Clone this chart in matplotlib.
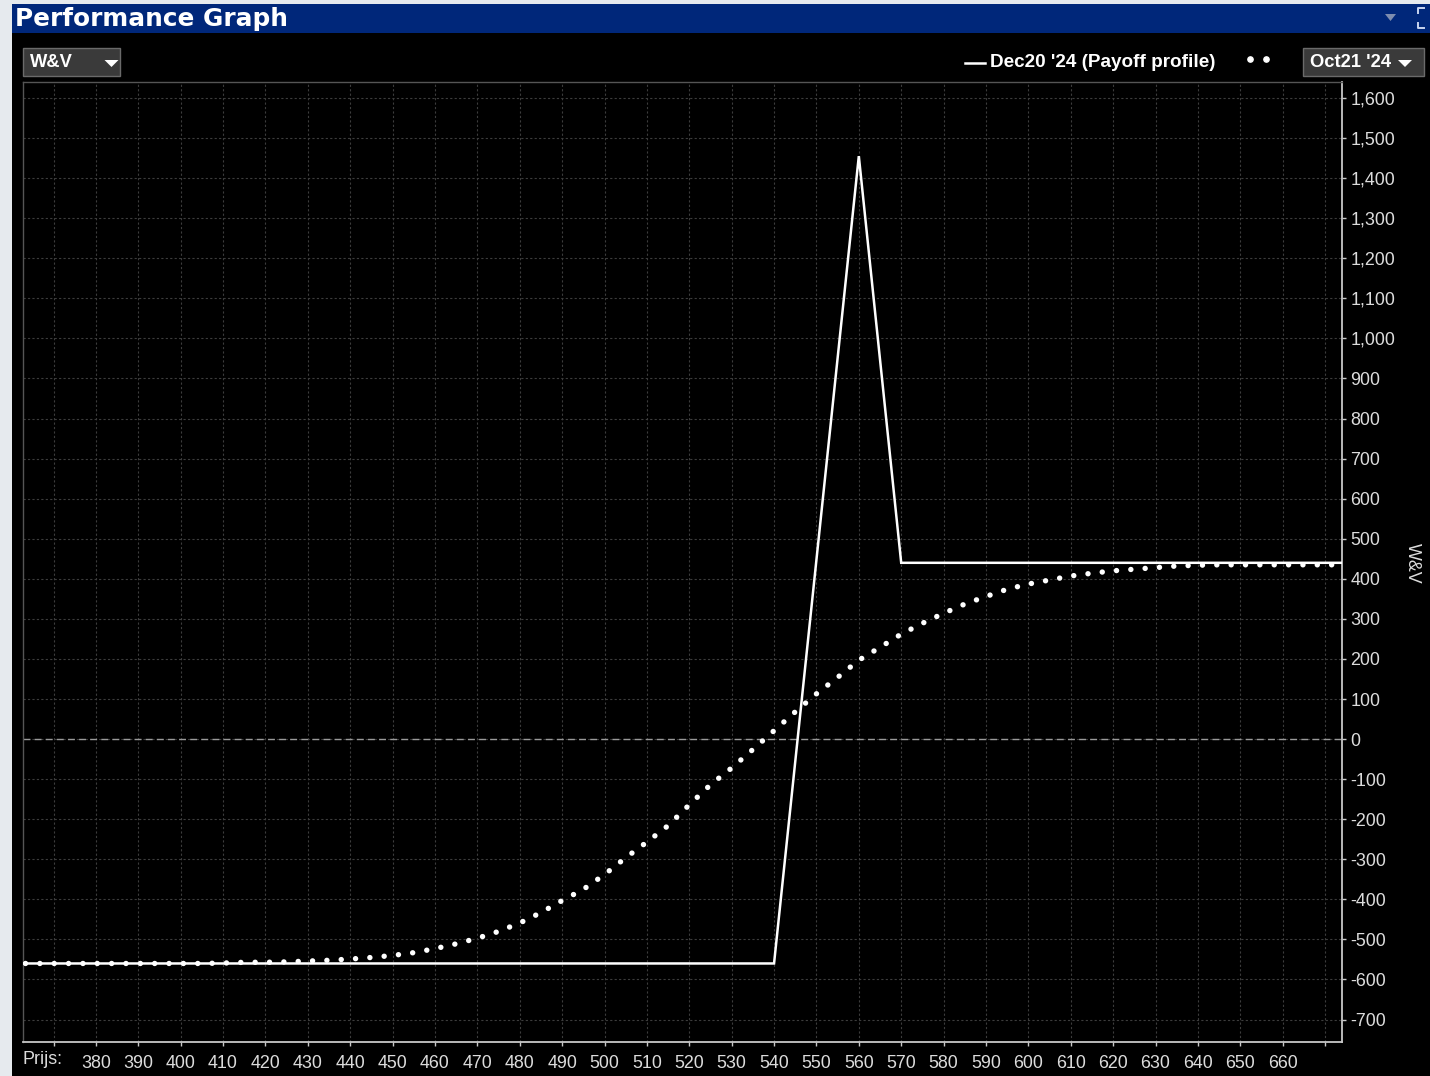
import matplotlib.pyplot as plt
from matplotlib.patches import Rectangle, Polygon

plt.rcParams['font.family'] = ['Liberation Sans', 'DejaVu Sans']
plt.rcParams['axes.unicode_minus'] = False

# payoff profile at expiry (Dec20 '24)
payoff_price = [355, 540, 560, 570, 680]
payoff_value = [-560, -560, 1455, 440, 440]

# value curve at Oct21 '24 (dotted)
curve_price = [360, 365, 370, 375, 380, 385, 390, 395, 400, 405, 410, 415,
               420, 425, 430, 435, 440, 445, 450, 455, 460, 465, 470, 475,
               480, 485, 490, 495, 500, 505, 510, 515, 520, 525, 530, 535,
               540, 545, 550, 555, 560, 565, 570, 575, 580, 585, 590, 595,
               600, 605, 610, 615, 620, 625, 630, 635, 640, 645, 650, 655,
               660, 665, 670, 672]
curve_value = [-560, -560, -560, -560, -560, -560, -560, -560, -560, -560,
               -559, -557, -557, -556, -554, -552, -549, -545, -540, -533,
               -523, -511, -497, -480, -459, -433, -403, -375, -338, -296,
               -257, -216, -164, -114, -72, -26, 21, 68, 113, 154, 197, 229,
               262, 289, 314, 337, 356, 374, 387, 397, 407, 414, 420, 424,
               428, 432, 434, 435, 435, 435, 435, 435, 435, 435]

x_ticks = list(range(370, 680, 10))
x_labels = ['' if t in (370, 670) else str(t) for t in x_ticks]
y_ticks = list(range(-700, 1700, 100))
y_labels = ['{:,}'.format(t) for t in y_ticks]

W, H = 1430, 1076
fig = plt.figure(figsize=(W / 100, H / 100), dpi=100, facecolor='#e6eaee')


def fx(px):
    return px / W


def fy(py):
    return 1 - py / H


def box(x0, y0, x1, y1, **kw):
    fig.patches.append(Rectangle((fx(x0), fy(y1)), fx(x1) - fx(x0), fy(y0) - fy(y1),
                                 transform=fig.transFigure, **kw))


# window chrome
box(12, 33, W, H, facecolor='black', edgecolor='none', zorder=-2)
box(12, 4, W, 33, facecolor='#00277a', edgecolor='none', zorder=-2)
fig.text(fx(15), fy(19), 'Performance Graph', color='white', fontsize=17.8,
         fontweight='bold', family='DejaVu Sans', va='center', ha='left')
fig.patches.append(Polygon([(fx(1385), fy(14)), (fx(1396), fy(14)), (fx(1390.5), fy(21))],
                           closed=True, transform=fig.transFigure,
                           facecolor='#7d8db0', edgecolor='none'))
fig.lines.append(plt.Line2D([fx(1424), fx(1418), fx(1418)],
                            [fy(8), fy(8), fy(13)], transform=fig.transFigure,
                            color='#c8d4f0', lw=1.4))
fig.lines.append(plt.Line2D([fx(1424), fx(1418), fx(1418)],
                            [fy(28), fy(28), fy(23)], transform=fig.transFigure,
                            color='#c8d4f0', lw=1.4))

# dropdowns
for x0, x1, label, tri in [(23, 120, 'W&V', 111.5), (1303, 1424, "Oct21 '24", 1405)]:
    box(x0, 48, x1, 76, facecolor='#3a3a3a', edgecolor='#6a6a6a', lw=1, zorder=1)
    fig.text(fx(x0 + 7), fy(62.5), label, color='white', fontsize=13.2,
             fontweight='bold', va='center', ha='left')
    fig.patches.append(Polygon([(fx(tri - 7), fy(60)), (fx(tri + 7), fy(60)), (fx(tri), fy(67))],
                               closed=True, transform=fig.transFigure,
                               facecolor='white', edgecolor='none', zorder=2))

# legend
fig.lines.append(plt.Line2D([fx(965), fx(985)], [fy(62.5), fy(62.5)],
                            transform=fig.transFigure, color='white', lw=1.8))
fig.text(fx(990), fy(62.5), "Dec20 '24 (Payoff profile)", color='white',
         fontsize=13.6, fontweight='bold', va='center', ha='left')
fig.lines.append(plt.Line2D([fx(1250), fx(1266)], [fy(59), fy(59)],
                            transform=fig.transFigure, color='white', lw=0,
                            marker='o', markersize=3.8))

ax = fig.add_axes([fx(23), fy(1042), fx(1342) - fx(23), fy(82) - fy(1042)])
ax.set_facecolor('black')
ax.set_xlim(362.8, 674.0)
ax.set_ylim(-756, 1640)

ax.set_xticks(x_ticks)
ax.set_xticklabels(x_labels)
ax.set_yticks(y_ticks)
ax.set_yticklabels(y_labels)
ax.yaxis.tick_right()
ax.tick_params(axis='both', colors='#c8c8c8', labelcolor='#dcdcdc',
               labelsize=12.9, length=3, width=1)
ax.tick_params(axis='x', pad=6)
ax.tick_params(axis='y', pad=3)
ax.grid(True, color='#3c3c3c', lw=0.8, linestyle=(0, (2, 2)))
ax.set_axisbelow(True)
for side in ['left', 'top']:
    ax.spines[side].set_color('#555555')
    ax.spines[side].set_linewidth(1)
for side in ['right', 'bottom']:
    ax.spines[side].set_color('#c8c8c8')
    ax.spines[side].set_linewidth(1.3)

ax.axhline(0, color='#9a9a9a', lw=1, linestyle=(0, (5, 3)), zorder=1)

ax.plot(payoff_price, payoff_value, color='white', lw=1.8,
        solid_joinstyle='miter', zorder=3)
ax.plot(curve_price, curve_value, color='white', lw=3.9,
        linestyle=(0, (0.01, 2.64)), dash_capstyle='round', zorder=4)

fig.text(fx(23), fy(1060), 'Prijs:', color='#dcdcdc', fontsize=12.9,
         va='center', ha='left')
fig.text(fx(1412), fy(563), 'W&V', color='#dcdcdc', fontsize=12.9,
         rotation=270, va='center', ha='center')

fig.savefig('out.png', dpi=100, facecolor=fig.get_facecolor())
